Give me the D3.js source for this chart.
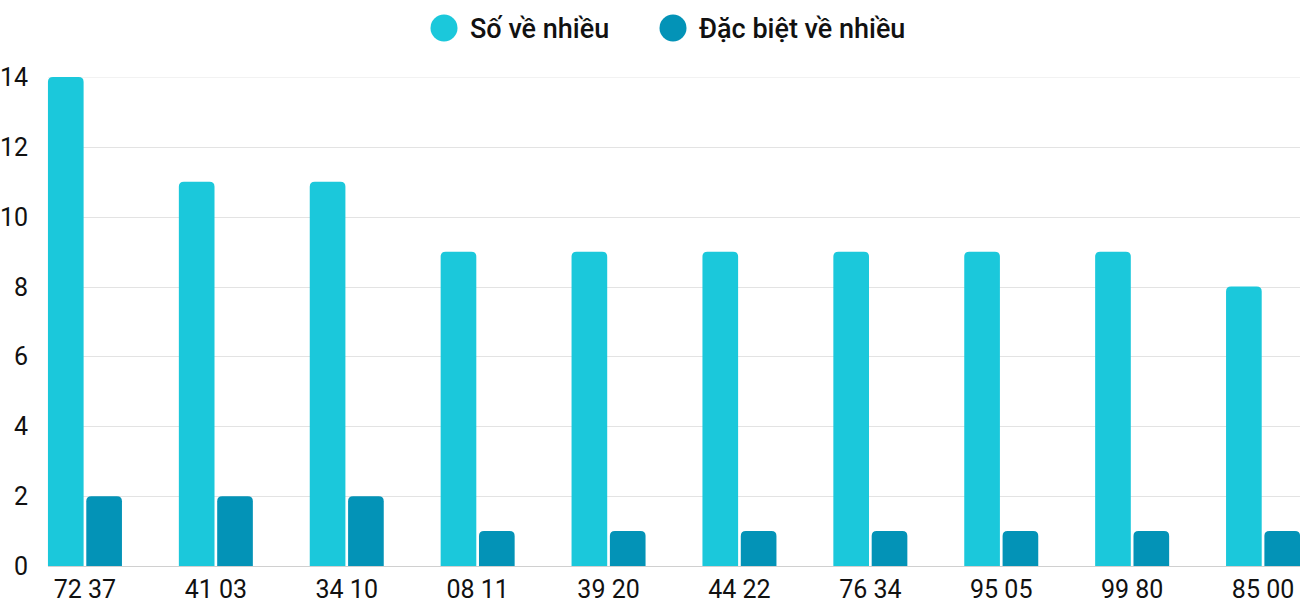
<!DOCTYPE html>
<html><head><meta charset="utf-8">
<script src="https://cdn.jsdelivr.net/npm/d3@7"></script>
<style>body{margin:0;background:#fff}svg{display:block;font-family:Roboto,sans-serif}</style>
</head><body><svg id="c" width="1300" height="600"></svg>
<script>
const categories = ["72 37","41 03","34 10","08 11","39 20","44 22","76 34","95 05","99 80","85 00"];
const seriesNames = ["Số về nhiều","Đặc biệt về nhiều"];
const soVeNhieu = [14,11,11,9,9,9,9,9,9,8];
const dacBietVeNhieu = [2,2,2,1,1,1,1,1,1,1];
const yTicks = [0,2,4,6,8,10,12,14];
const colors = ["#1bc8db","#0393b7"];

const svg = d3.select("#c");
const y = d3.scaleLinear().domain([0,14]).range([566,77]);
const x0 = d3.scaleBand().domain(categories).range([19.5,1328.5]).padding(0);
const x1 = d3.scaleBand().domain(seriesNames).range([-37,37]).paddingInner(0.07);

// gridlines
svg.append("g").selectAll("line").data(yTicks).join("line")
  .attr("x1",48).attr("x2",1300)
  .attr("y1",d=>Math.round(y(d))+0.5).attr("y2",d=>Math.round(y(d))+0.5)
  .attr("stroke",d=>d===0?"#d0d0d0":(d===14?"#f2f2f2":"#e3e3e3")).attr("stroke-width",1);

// y labels
svg.append("g").selectAll("text").data(yTicks).join("text")
  .attr("x",28).attr("y",d=>y(d)).attr("dy","0.36em")
  .attr("text-anchor","end").attr("font-size",25).attr("fill","#111").text(d=>d);

// bars
function topRounded(x,yTop,w,h,r){
  r=Math.min(r,h,w/2);
  return `M${x},${yTop+h}V${yTop+r}Q${x},${yTop} ${x+r},${yTop}H${x+w-r}Q${x+w},${yTop} ${x+w},${yTop+r}V${yTop+h}Z`;
}
const data = categories.map((c,i)=>({c, vals:[soVeNhieu[i],dacBietVeNhieu[i]]}));
const g = svg.append("g").selectAll("g").data(data).join("g")
  .attr("transform",d=>`translate(${x0(d.c)+x0.bandwidth()/2},0)`);
g.selectAll("path").data(d=>d.vals.map((v,j)=>({v,s:seriesNames[j],j}))).join("path")
  .attr("fill",d=>colors[d.j])
  .attr("d",d=>topRounded(x1(d.s),y(d.v),x1.bandwidth(),y(0)-y(d.v),5));

// x labels
svg.append("g").selectAll("text").data(categories).join("text")
  .attr("x",d=>x0(d)+x0.bandwidth()/2).attr("y",598)
  .attr("text-anchor","middle").attr("font-size",25).attr("fill","#111").text(d=>d);

// legend
const leg = [{x:444,t:seriesNames[0]},{x:673,t:seriesNames[1]}];
const lg = svg.append("g").selectAll("g").data(leg).join("g");
lg.append("circle").attr("cx",d=>d.x).attr("cy",28).attr("r",13.5).attr("fill",(d,i)=>colors[i]);
lg.append("text").attr("x",d=>d.x+26).attr("y",28).attr("dy","0.36em")
  .attr("font-size",27).attr("font-weight",500).attr("fill","#111").text(d=>d.t);
</script></body></html>
